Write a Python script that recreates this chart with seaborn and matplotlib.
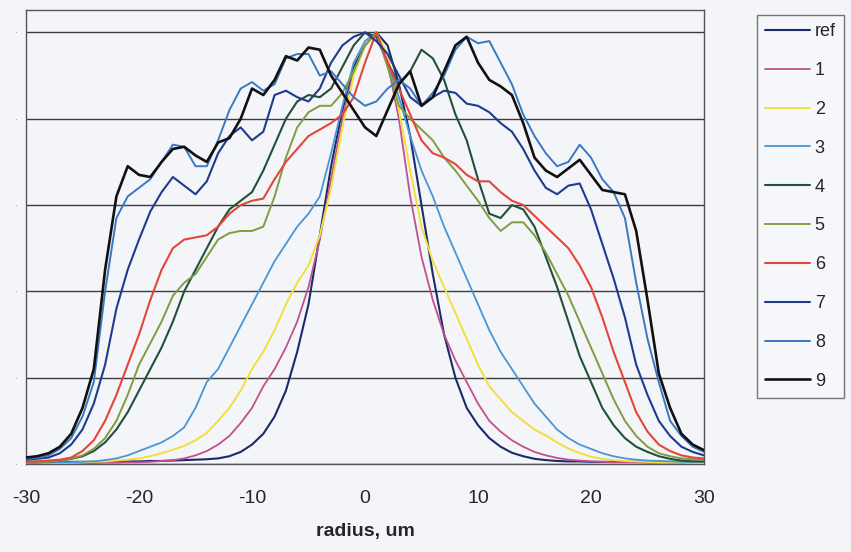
import numpy as np
import pandas as pd
import matplotlib
matplotlib.use("Agg")
import matplotlib.pyplot as plt
import seaborn as sns

radius = list(range(-30, 31))

ref = [0.005,0.005,0.005,0.005,0.005,0.005,0.005,0.005,0.006,0.006,0.006,0.007,0.007,0.008,0.009,
       0.010,0.011,0.013,0.018,0.028,0.045,0.07,0.11,0.17,0.26,0.37,0.53,0.69,0.82,0.92,0.97,
       1.0,0.97,0.88,0.76,0.60,0.44,0.30,0.20,0.13,0.09,0.06,0.04,0.026,0.018,0.012,0.009,0.007,
       0.006,0.006,0.005,0.005,0.005,0.005,0.005,0.005,0.005,0.005,0.005,0.005,0.005]
s1 = [0.002,0.002,0.002,0.002,0.002,0.002,0.002,0.003,0.003,0.004,
      0.004,0.005,0.007,0.009,0.013,0.02,0.03,0.045,0.065,0.095,0.13,0.18,0.22,0.27,0.33,0.41,0.52,0.66,0.80,0.91,0.97,
      1.0,0.93,0.80,0.62,0.48,0.38,0.30,0.24,0.19,0.14,0.10,0.075,0.055,0.04,0.028,0.02,0.014,0.01,0.008,0.006,
      0.005,0.004,0.004,0.004,0.003,0.003,0.003,0.003,0.003,0.003]
s2 = [0.002,0.002,0.002,0.003,0.003,0.004,
      0.005,0.006,0.008,0.010,0.013,0.018,0.025,0.033,0.042,0.055,0.072,0.10,0.13,0.17,0.22,0.26,0.31,0.37,0.42,0.46,0.53,0.64,0.78,0.90,0.97,
      1.0,0.95,0.82,0.68,0.55,0.47,0.41,0.35,0.29,0.23,0.18,0.15,0.12,0.10,0.08,0.066,0.05,0.036,0.025,0.017,
      0.012,0.009,0.007,0.006,0.005,0.004,0.004,0.004,0.003,0.003]
s3 = [0.003,0.003,0.003,0.004,0.004,0.005,
      0.006,0.009,0.013,0.02,0.03,0.04,0.05,0.065,0.085,0.13,0.19,0.22,0.27,0.32,0.37,0.42,0.47,0.51,0.55,0.58,0.62,0.72,0.83,0.93,0.98,
      1.0,0.93,0.85,0.76,0.68,0.62,0.55,0.49,0.43,0.37,0.31,0.26,0.22,0.18,0.14,0.11,0.08,0.06,0.045,0.035,
      0.025,0.018,0.013,0.01,0.008,0.007,0.006,0.005,0.005,0.005]
s4 = [0.004,0.004,0.005,0.008,
      0.012,0.018,0.03,0.05,0.08,0.12,0.17,0.22,0.27,0.33,0.40,0.45,0.50,0.55,0.59,0.61,0.63,0.68,0.74,0.80,0.84,0.855,0.85,0.87,0.92,0.97,1.0,
      0.99,0.93,0.88,0.91,0.96,0.94,0.89,0.81,0.75,0.66,0.58,0.57,0.60,0.59,0.55,0.48,0.41,0.33,0.25,0.19,
      0.13,0.09,0.06,0.04,0.028,0.018,0.012,0.008,0.006,0.006]
s5 = [0.003,0.004,0.005,0.008,
      0.012,0.02,0.035,0.06,0.10,0.16,0.23,0.28,0.33,0.39,0.42,0.44,0.48,0.52,0.535,0.54,0.54,0.55,0.62,0.71,0.78,0.815,0.83,0.83,0.86,0.91,0.97,
      1.0,0.92,0.83,0.80,0.775,0.75,0.71,0.68,0.645,0.61,0.57,0.54,0.56,0.56,0.53,0.49,0.44,0.39,0.33,0.27,
      0.21,0.15,0.10,0.065,0.04,0.025,0.018,0.013,0.011,0.01]
s6 = [0.005,0.006,0.008,0.01,
      0.015,0.03,0.055,0.10,0.16,0.23,0.30,0.38,0.45,0.50,0.52,0.525,0.53,0.55,0.58,0.60,0.61,0.615,0.66,0.70,0.73,0.76,0.775,0.79,0.81,0.85,0.93,
      1.0,0.93,0.87,0.81,0.75,0.72,0.71,0.695,0.67,0.655,0.655,0.63,0.61,0.60,0.575,0.55,0.525,0.50,0.46,0.41,
      0.34,0.26,0.19,0.12,0.075,0.045,0.03,0.02,0.015,0.013]
s7 = [0.01,0.012,0.015,0.025,0.045,0.08,0.14,0.23,0.36,0.45,0.52,0.585,0.63,0.665,0.645,0.625,0.655,0.72,0.76,0.78,
      0.75,0.77,0.855,0.865,0.85,0.84,0.87,0.93,0.97,0.99,1.0,
      0.98,0.95,0.90,0.85,0.83,0.85,0.865,0.86,0.835,0.83,0.815,0.79,0.77,0.73,0.68,0.64,0.625,0.645,0.65,0.59,
      0.51,0.43,0.34,0.23,0.16,0.10,0.065,0.04,0.028,0.02]
s8 = [0.012,0.014,0.02,0.035,0.06,0.11,0.19,0.40,0.57,0.62,0.64,0.66,0.70,0.74,0.735,0.69,0.69,0.75,0.82,0.87,
      0.885,0.865,0.88,0.94,0.95,0.95,0.90,0.91,0.88,0.85,0.83,
      0.84,0.87,0.89,0.87,0.83,0.86,0.90,0.96,0.99,0.975,0.98,0.93,0.88,0.81,0.76,0.72,0.69,0.70,0.74,0.71,
      0.66,0.63,0.57,0.42,0.29,0.19,0.10,0.065,0.04,0.028]
s9 = [0.015,0.018,0.025,0.04,0.07,0.13,0.22,0.45,0.62,0.69,0.67,0.665,0.70,0.73,0.735,0.715,0.70,0.745,0.755,0.80,
      0.87,0.855,0.89,0.945,0.935,0.965,0.96,0.90,0.86,0.82,0.78,
      0.76,0.82,0.88,0.91,0.83,0.85,0.91,0.97,0.99,0.93,0.89,0.875,0.855,0.79,0.71,0.68,0.665,0.685,0.705,0.67,
      0.635,0.63,0.625,0.54,0.38,0.21,0.13,0.07,0.045,0.032]

series_names = ["ref", "1", "2", "3", "4", "5", "6", "7", "8", "9"]
series_values = [ref, s1, s2, s3, s4, s5, s6, s7, s8, s9]
colors = ["#1b2a6b", "#c2508e", "#f0e03a", "#4a95d6", "#23503a",
          "#809c40", "#e2473a", "#1f3b8f", "#3a78c4", "#111111"]
widths = [1.5, 1.3, 1.4, 1.3, 1.5, 1.4, 1.5, 1.5, 1.4, 1.9]
xticks = [-30, -20, -10, 0, 10, 20, 30]
yticks = [0.0, 0.2, 0.4, 0.6, 0.8, 1.0]

frames = []
for name, vals in zip(series_names, series_values):
    frames.append(pd.DataFrame({"radius": radius, "value": vals, "series": name}))
df = pd.concat(frames, ignore_index=True)

sns.set_style("white")
plt.rcParams["font.family"] = ["Liberation Sans Narrow", "Liberation Sans", "DejaVu Sans"]

bg = "#f4f5f9"
fig = plt.figure(figsize=(8.51, 5.52), dpi=100, facecolor=bg)
ax = fig.add_axes([26/851, 88/552, 678/851, 454/552])
ax.set_facecolor(bg)

for name, c, lw in zip(series_names, colors, widths):
    sub = df[df["series"] == name]
    sns.lineplot(data=sub, x="radius", y="value", color=c, linewidth=lw, ax=ax,
                 label=name, legend=False, zorder=3)

ax.set_xlim(-30, 30)
ax.set_ylim(0, 1.052)
ax.set_xticks(xticks)
ax.set_xticklabels([str(t) for t in xticks], fontsize=14)
ax.set_yticks(yticks)
ax.set_yticklabels(["·"] * len(yticks), fontsize=7, color="#8a8a8a")
ax.yaxis.grid(True, color="#3c3c3c", linewidth=1.0, zorder=1)
ax.xaxis.grid(False)
ax.set_axisbelow(True)
for sp in ax.spines.values():
    sp.set_color("#555555")
    sp.set_linewidth(1.0)
ax.tick_params(axis="x", direction="out", length=5, width=1, color="#555555", pad=14)
ax.tick_params(axis="y", direction="out", length=0, pad=6)
ax.set_xlabel("radius, um", fontsize=14, fontweight="bold", labelpad=11)
ax.set_ylabel("")

handles = ax.get_lines()[:len(series_names)]
leg = fig.legend(handles, series_names, loc="upper left",
                 bbox_to_anchor=(757/851, 1 - 15/552), fontsize=13,
                 frameon=True, fancybox=False, handlelength=2.5,
                 handletextpad=0.25, labelspacing=1.21, borderpad=0.45,
                 borderaxespad=0)
leg.get_frame().set_edgecolor("#555555")
leg.get_frame().set_facecolor("#f7f8fb")
leg.get_frame().set_linewidth(1.0)

fig.savefig("out.png", dpi=100, facecolor=bg)
